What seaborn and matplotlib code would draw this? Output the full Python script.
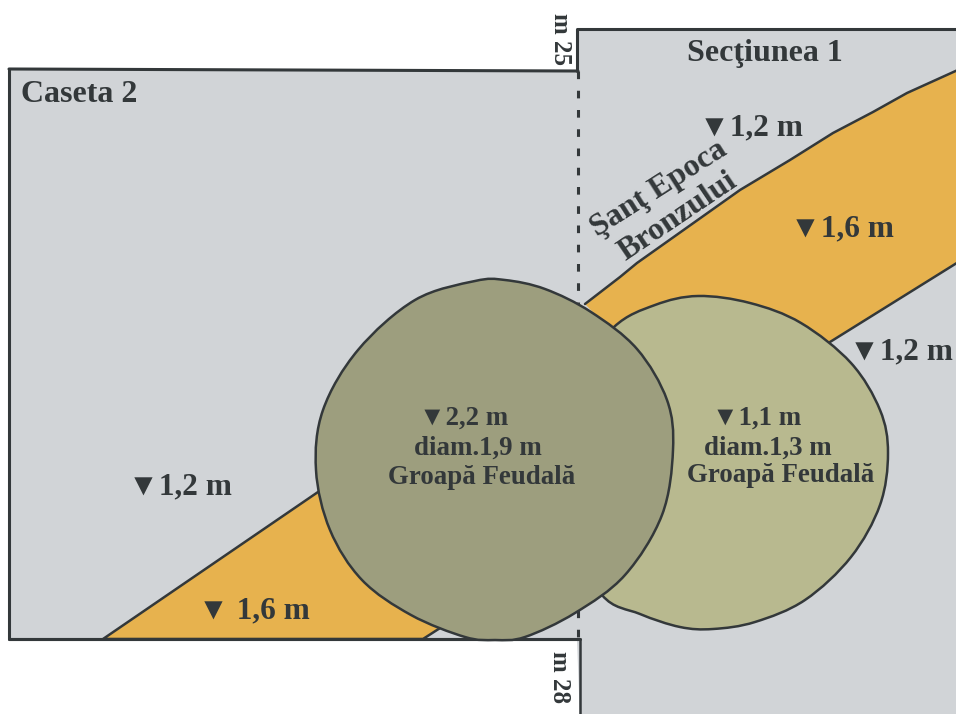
# Plan of the trench: Caseta 2 / Secţiunea 1, drawn in image pixel coordinates
import matplotlib
matplotlib.use('Agg')
import matplotlib.pyplot as plt
import seaborn as sns
from matplotlib.path import Path
from matplotlib.patches import PathPatch

# outlines (x, y)
caseta_x = [9, 578, 578, 9, 9]
caseta_y = [69, 71, 639, 639, 69]
sectiune_x = [580, 577, 577, 960, 960, 580]
sectiune_y = [720, 640, 29, 29, 720, 720]
sectiune_line_x = [580, 580]
sectiune_line_y = [639, 720]
top_step_x = [577, 577, 960]
top_step_y = [71, 29, 29]
limit_x = [578, 578]
limit_y = [71, 640]

ditch_top_x = [585, 620, 637, 740, 790, 833, 873, 907, 960]
ditch_top_y = [304, 277, 263, 190, 160, 133, 112, 93, 69]
ditch_low_x = [960, 830]
ditch_low_y = [261, 342]
ditch_hidden_x = [700, 610]
ditch_hidden_y = [400, 330]

ditch2_x = [103, 318, 400, 445, 437, 423, 103]
ditch2_y = [639, 492, 560, 625, 630, 639, 639]

big_pit_x = [475, 505, 545, 591, 637, 667, 673, 662, 625, 575, 525, 495, 465, 411, 362, 330, 316, 323, 358, 415]
big_pit_y = [281, 280, 289, 312, 349, 400, 450, 515, 575, 613, 637, 640, 637, 615, 580, 530, 470, 410, 350, 300]
small_pit_x = [614, 655, 698, 750, 801, 851, 880, 888, 880, 851, 805, 755, 713, 680, 640, 602, 570, 560, 575]
small_pit_y = [327, 305, 296, 303, 323, 363, 410, 453, 505, 557, 600, 622, 629, 627, 614, 595, 530, 460, 380]

# labels
level_labels = ['▼1,2 m', '▼1,6 m', '▼1,2 m', '▼1,2 m', '▼ 1,6 m']
level_x = [699, 790, 849, 128, 198]
level_y = [128, 229, 352, 487, 611]
pit_labels = ['▼2,2 m', 'diam.1,9 m', 'Groapă Feudală', '▼1,1 m', 'diam.1,3 m', 'Groapă Feudală']
pit_x = [464, 478, 482, 757, 768, 781]
pit_y = [418, 448, 478, 418, 448, 476]

GRAY = '#d1d4d7'
ORANGE = '#e7b24e'
BIG = '#9d9e7e'
SMALL = '#b8b98f'
INK = '#33383a'

sns.set_theme(style='white')
plt.rcParams['font.family'] = ['Liberation Serif', 'DejaVu Serif']
plt.rcParams['font.weight'] = 'bold'

fig = plt.figure(figsize=(9.56, 7.14), dpi=100)
ax = fig.add_axes([0, 0, 1, 1])


def edge(x, y, lw=2.2, **kw):
    sns.lineplot(x=x, y=y, ax=ax, sort=False, estimator=None, color=INK, linewidth=lw, zorder=3, **kw)


def blob(x, y, color, z):
    # closed Catmull-Rom curve through the listed points
    pts = list(zip(x, y))
    n = len(pts)
    verts = [pts[0]]
    codes = [Path.MOVETO]
    for i in range(n):
        p0, p1, p2, p3 = pts[i - 1], pts[i], pts[(i + 1) % n], pts[(i + 2) % n]
        verts.append((p1[0] + (p2[0] - p0[0]) / 6, p1[1] + (p2[1] - p0[1]) / 6))
        verts.append((p2[0] - (p3[0] - p1[0]) / 6, p2[1] - (p3[1] - p1[1]) / 6))
        verts.append(p2)
        codes += [Path.CURVE4] * 3
    ax.add_patch(PathPatch(Path(verts, codes), facecolor=color, edgecolor=INK, linewidth=1.8, zorder=z))


ax.fill(caseta_x, caseta_y, color=GRAY, linewidth=0, zorder=1)
ax.fill(sectiune_x, sectiune_y, color=GRAY, linewidth=0, zorder=1)
edge(caseta_x[:2], caseta_y[:2])
edge([9, 9, 580], [69, 639, 639])
edge(sectiune_line_x, sectiune_line_y, lw=1.8)
edge(top_step_x, top_step_y)
line = ax.plot(limit_x, limit_y, color=INK, linewidth=2.2, dash_capstyle='butt', zorder=3)[0]
line.set_dashes((2.5, 3.8))

ax.fill(ditch_top_x + ditch_low_x + ditch_hidden_x, ditch_top_y + ditch_low_y + ditch_hidden_y,
        color=ORANGE, linewidth=0, zorder=2)
edge(ditch_top_x, ditch_top_y, lw=1.8)
edge(ditch_low_x, ditch_low_y, lw=1.8)
ax.fill(ditch2_x, ditch2_y, facecolor=ORANGE, edgecolor=INK, linewidth=1.8, zorder=2)
edge(caseta_x[2:4], caseta_y[2:4])

blob(small_pit_x, small_pit_y, SMALL, 4)
blob(big_pit_x, big_pit_y, BIG, 5)

for s, x, y in zip(level_labels, level_x, level_y):
    ax.text(x, y, s, fontsize=22.5, color=INK, ha='left', va='center', zorder=6)
for s, x, y in zip(pit_labels, pit_x, pit_y):
    ax.text(x, y, s, fontsize=19.4, color=INK, ha='center', va='center', zorder=6)

ax.text(21, 94, 'Caseta 2', fontsize=23, color=INK, ha='left', va='center', zorder=6)
ax.text(765, 54, 'Secţiunea 1', fontsize=23, color=INK, ha='center', va='center', zorder=6)
ax.text(561, 39, 'm 25', fontsize=18, color=INK, rotation=270, ha='center', va='center', zorder=6)
ax.text(560, 677, 'm 28', fontsize=18, color=INK, rotation=270, ha='center', va='center', zorder=6)
ax.text(659, 189, 'Şanţ Epoca', fontsize=23, color=INK, rotation=32.5, rotation_mode='anchor',
        ha='center', va='center', zorder=6)
ax.text(678, 217, 'Bronzului', fontsize=23, color=INK, rotation=34, rotation_mode='anchor',
        ha='center', va='center', zorder=6)

ax.set_xlim(0, 956)
ax.set_ylim(714, 0)
ax.axis('off')
fig.savefig('out.png', dpi=100)
